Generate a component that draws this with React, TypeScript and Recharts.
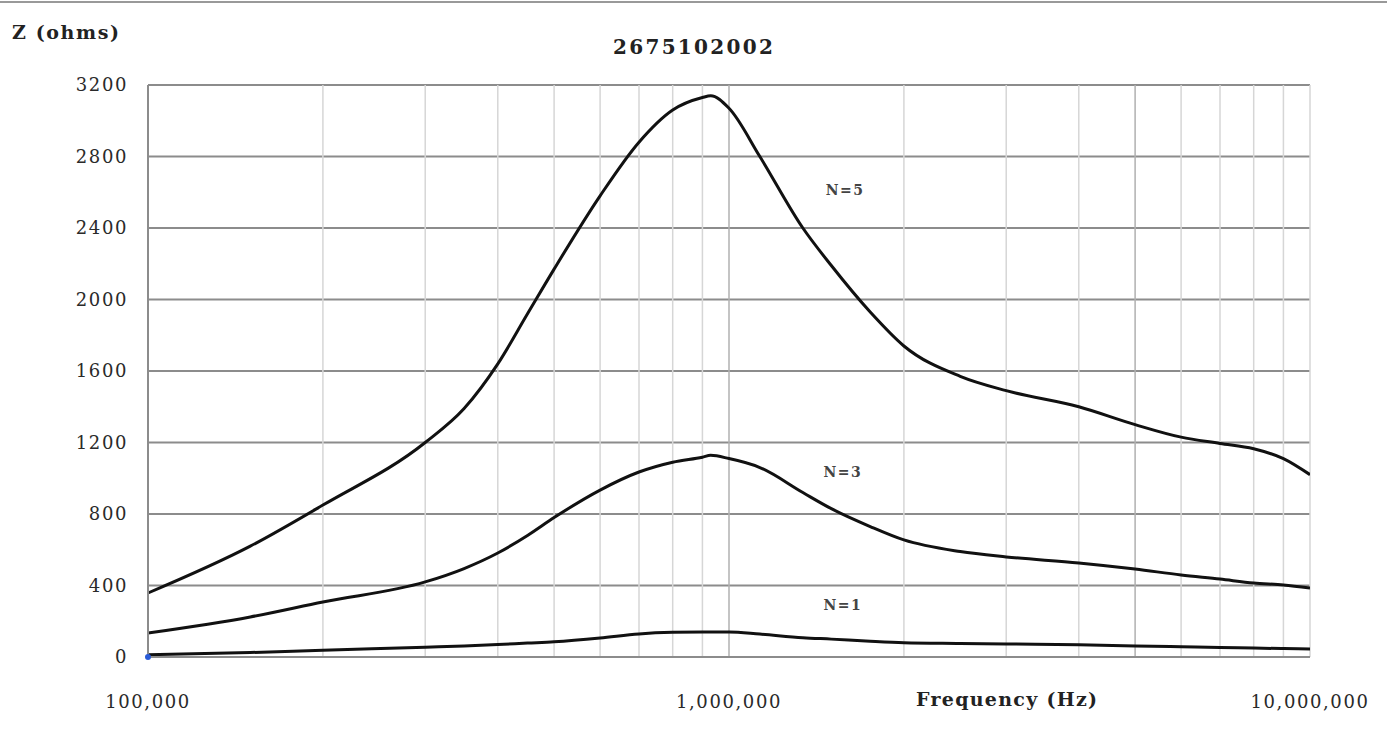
import React from "react";
import { LineChart, Line, XAxis, YAxis, CartesianGrid, ReferenceLine, ReferenceDot } from "recharts";

const freqs = [1e5, 1.5e5, 2e5, 3e5, 3.5e5, 4e5, 4.5e5, 5e5, 6e5, 7e5, 8e5, 9e5, 9.3e5, 1e6, 1.13e6, 1.34e6, 1.5e6, 1.75e6, 2e6, 2.5e6, 3e6, 4e6, 5e6, 6e6, 7e6, 8e6, 9e6, 1e7];
const n5 = [358, 620, 850, 1200, 1390, 1640, 1920, 2170, 2580, 2880, 3060, 3130, 3140, 3070, 2800, 2400, 2190, 1930, 1740, 1570, 1490, 1400, 1300, 1230, 1195, 1165, 1110, 1020];
const n3 = [134, 224, 308, 420, 495, 582, 680, 780, 934, 1035, 1090, 1118, 1128, 1110, 1060, 920, 830, 730, 655, 590, 560, 526, 492, 459, 436, 414, 403, 386];
const n1 = [12, 25, 38, 55, 62, 70, 78, 85, 106, 129, 138, 140, 140, 140, 128, 108, 100, 88, 80, 76, 73, 68, 62, 57, 53, 50, 47, 45];

const xTicks = [1e5, 1e6, 1e7];
const xTickLabels = ["100,000", "1,000,000", "10,000,000"];
const yTicks = [0, 400, 800, 1200, 1600, 2000, 2400, 2800, 3200];
const minorFreqs = [2e5, 3e5, 4e5, 5e5, 6e5, 7e5, 8e5, 9e5, 1e6, 2e6, 3e6, 4e6, 5e6, 6e6, 7e6, 8e6, 9e6, 1e7];

const seriesLabels = [
  { name: "N=5", f: 1.584e6, z: 2613 },
  { name: "N=3", f: 1.57e6, z: 1035 },
  { name: "N=1", f: 1.57e6, z: 291 },
];

const rows = freqs.map((f, i) => ({ f, n5: n5[i], n3: n3[i], n1: n1[i] }));

const FONT = "'DejaVu Serif', 'Liberation Serif', serif";

function XTick(props: any) {
  const { x, y, payload } = props;
  const i = xTicks.indexOf(payload.value);
  return (
    <text x={x} y={y + 43} textAnchor="middle" fontFamily={FONT} fontSize={18} letterSpacing={1.6} fill="#2a2a2a">
      {xTickLabels[i] ?? ""}
    </text>
  );
}

function YTick(props: any) {
  const { x, y, payload } = props;
  return (
    <text x={x} y={y + 6} textAnchor="end" fontFamily={FONT} fontSize={18} letterSpacing={1.6} fill="#2a2a2a">
      {payload.value}
    </text>
  );
}

export default function App() {
  return (
    <div style={{ position: "absolute", left: 0, top: 0, width: 1387, height: 746, background: "#fff", fontFamily: FONT }}>
      <div style={{ position: "absolute", left: 0, top: 1, width: 1387, height: 0, borderTop: "2px solid #999" }} />
      <div style={{ position: "absolute", left: 12, top: 21, fontSize: 19, lineHeight: "22px", fontWeight: "bold", letterSpacing: 1.6, color: "#222" }}>
        Z (ohms)
      </div>
      <div style={{ position: "absolute", left: 613, top: 35, fontSize: 20, lineHeight: "24px", fontWeight: "bold", letterSpacing: 2.3, color: "#222" }}>
        2675102002
      </div>
      <div style={{ position: "absolute", left: 916, top: 688, fontSize: 19, lineHeight: "22px", fontWeight: "bold", letterSpacing: 1.3, color: "#222" }}>
        Frequency (Hz)
      </div>
      <LineChart width={1387} height={746} data={rows} margin={{ top: 85, right: 77, bottom: 0, left: 0 }}>
        <CartesianGrid vertical={false} stroke="#8c8c8c" strokeWidth={2} />
        {minorFreqs.map((f) => (
          <ReferenceLine key={f} x={f} stroke={f === 1e6 || f === 5e6 ? "#b0b0b0" : "#d6d6d6"} strokeWidth={1.5} />
        ))}
        <XAxis
          dataKey="f"
          type="number"
          scale="log"
          domain={[1e5, 1e7]}
          allowDataOverflow
          ticks={xTicks}
          tick={<XTick />}
          tickLine={false}
          axisLine={{ stroke: "#8c8c8c", strokeWidth: 2 }}
          height={89}
        />
        <YAxis
          type="number"
          domain={[0, 3200]}
          ticks={yTicks}
          tick={<YTick />}
          tickLine={false}
          tickSize={0}
          tickMargin={20}
          axisLine={{ stroke: "#8c8c8c", strokeWidth: 2 }}
          width={148}
        />
        <Line type="monotone" dataKey="n5" stroke="#111" strokeWidth={3} dot={false} isAnimationActive={false} />
        <Line type="monotone" dataKey="n3" stroke="#111" strokeWidth={3} dot={false} isAnimationActive={false} />
        <Line type="monotone" dataKey="n1" stroke="#111" strokeWidth={3} dot={false} isAnimationActive={false} />
        <ReferenceDot x={1e5} y={0} r={3} fill="#2a5bd7" stroke="none" />
        {seriesLabels.map((s) => (
          <ReferenceDot
            key={s.name}
            x={s.f}
            y={s.z}
            r={0}
            fill="none"
            stroke="none"
            label={{ value: s.name, position: "center", fontFamily: FONT, fontSize: 14, fontWeight: "bold", letterSpacing: 1.5, fill: "#444" }}
          />
        ))}
      </LineChart>
    </div>
  );
}
